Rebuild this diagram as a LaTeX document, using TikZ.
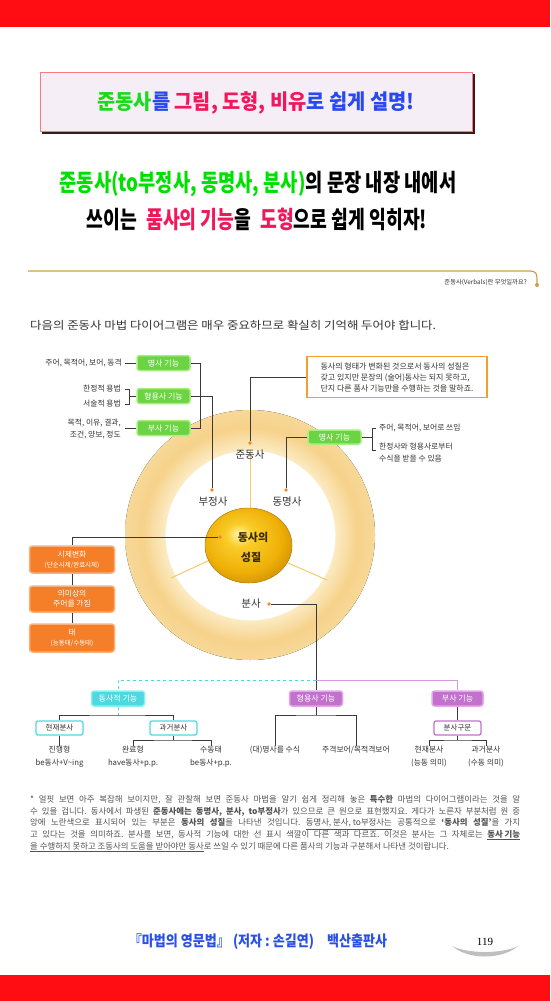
\documentclass[tikz,border=0pt]{standalone}
\usepackage{fontspec}
\setmainfont{Noto Sans CJK KR}
\newfontfamily\serifnum{Liberation Serif}
\frenchspacing
\definecolor{topred}{HTML}{FF0D12}
\definecolor{tgreen}{HTML}{18DC18}
\definecolor{sgreen}{HTML}{00E000}
\definecolor{tblue}{HTML}{2848F0}
\definecolor{tred}{HTML}{F0185A}
\definecolor{gold}{HTML}{C9A048}
\definecolor{gfill}{HTML}{6CD443}
\definecolor{gline}{HTML}{A8EE80}
\definecolor{ofill}{HTML}{F47F28}
\definecolor{oline}{HTML}{F9B07A}
\definecolor{obox}{HTML}{F0A030}
\definecolor{cfill}{HTML}{4FD8DF}
\definecolor{cline}{HTML}{8CF0F2}
\definecolor{vfill}{HTML}{C271CC}
\definecolor{vline}{HTML}{E2A8EA}
\definecolor{dkline}{HTML}{3A3A3A}
\definecolor{dotc}{HTML}{F08A20}
\definecolor{ringA}{HTML}{FCEBC4}
\definecolor{ringB}{HTML}{F6D28A}
\definecolor{spoke}{HTML}{F2CC66}
\definecolor{txt}{HTML}{333333}
\definecolor{foot}{HTML}{2850E8}
\definecolor{tbfill}{HTML}{F6EEF6}
\definecolor{tbline}{HTML}{FF7A80}
\definecolor{tbshadow}{HTML}{3A1A1A}
\definecolor{ballhi}{HTML}{FFF3A8}
\definecolor{ballmid}{HTML}{F9CC28}
\definecolor{ballc}{HTML}{EFB008}
\definecolor{balldk}{HTML}{CC8800}
\definecolor{ballline}{HTML}{BE8C14}
\definecolor{balltxt}{HTML}{3C2800}
\pgfdeclareradialshading{ringshade}{\pgfpoint{0bp}{0bp}}{color(0bp)=(white); color(16.95bp)=(white); color(17bp)=(ringA); color(21.5bp)=(ringB); color(25bp)=(ringB!75!ringA); color(50bp)=(ringB!75!ringA)}
\pgfdeclareradialshading{sphereshade}{\pgfpoint{-6bp}{8bp}}{color(0bp)=(ballhi); color(8bp)=(ballmid); color(22bp)=(ballc); color(33bp)=(balldk); color(50bp)=(balldk)}
\tikzset{
  conn/.style={draw=dkline, line width=0.8pt},
  gbox/.style={rounded corners=2.5pt, fill=gfill, draw=gline, line width=1.5pt, text=white, font=\fontsize{8}{9}\selectfont, minimum width=53pt, minimum height=15pt, inner sep=0pt},
  obx/.style={rounded corners=3pt, fill=ofill, draw=oline, line width=1.5pt, text=white, font=\fontsize{7.8}{10}\selectfont, minimum width=85pt, inner sep=0pt, align=center},
  cbox/.style={rounded corners=2.5pt, fill=cfill, draw=cline, line width=1.5pt, text=white, font=\fontsize{8}{9}\selectfont, minimum width=53pt, minimum height=15pt, inner sep=0pt},
  cwbox/.style={rounded corners=2pt, fill=white, draw=cfill, line width=1.3pt, text=txt, font=\fontsize{7.5}{9}\selectfont, minimum width=47pt, minimum height=14pt, inner sep=0pt},
  vbox/.style={rounded corners=2.5pt, fill=vfill, draw=vline, line width=1.5pt, text=white, font=\fontsize{8}{9}\selectfont, minimum width=53pt, minimum height=15pt, inner sep=0pt},
  vwbox/.style={rounded corners=2pt, fill=white, draw=vfill, line width=1.3pt, text=txt, font=\fontsize{7.5}{9}\selectfont, minimum width=47pt, minimum height=14pt, inner sep=0pt},
  lbl/.style={text=txt, font=\fontsize{7.8}{9}\selectfont, inner sep=0pt},
  blbl/.style={text=txt, font=\fontsize{10.5}{12}\selectfont, inner sep=0pt},
  fn/.style={text=txt!85, font=\fontsize{8.4}{9}\selectfont, inner sep=0pt, anchor=west},
  pdot/.style={circle, fill=dotc, inner sep=0pt, minimum size=3.6pt}
}
\begin{document}
\begin{tikzpicture}[x=1pt,y=-1pt]
\useasboundingbox (0,0) rectangle (550,1001);
% red bars
\fill[topred] (0,0) rectangle (550,27);
\fill[topred] (0,975) rectangle (550,1001);
% title box
\fill[tbshadow] (42,74) rectangle (475,134);
\draw[tbline, fill=tbfill, line width=0.8pt] (40,72) rectangle (472,131);
\node[inner sep=0pt] (title) at (256,103) {\scalebox{0.94}[1]{\fontsize{21}{21}\selectfont\bfseries\textcolor{tgreen}{준동사}\textcolor{tblue}{를} \textcolor{tred}{그림, 도형, 비유}\textcolor{tblue}{로 쉽게 설명!}}};
% subtitle
\node[inner sep=0pt] (sub1) at (258,184) {\scalebox{0.78}[1]{\fontsize{24}{24}\selectfont\bfseries\textcolor{sgreen}{준동사(to부정사, 동명사, 분사)}의 문장 내장 내에서}};
\node[inner sep=0pt] (sub2) at (257,219) {\scalebox{0.76}[1]{\fontsize{24}{24}\selectfont\bfseries 쓰이는\hspace{0.5em}\textcolor{tred}{품사의 기능}을\hspace{0.5em}\textcolor{tred}{도형}으로 쉽게 익히자!}};
% gold header line
\coordinate (gl0) at (28,271);
\coordinate (gl1) at (530,271);
\coordinate (gl2) at (537,285);
\draw[gold, line width=1.2pt] (gl0) -- (gl1) .. controls (536,271) and (537,274) .. (537,279) -- (gl2);
\fill[gold] (gl2) circle (2pt);
\node[text=txt, font=\fontsize{6.3}{7}\selectfont, anchor=east, inner sep=0pt] (hdr) at (527,283) {준동사(Verbals)란 무엇일까요?};
\node[text=txt, font=\fontsize{11}{12}\selectfont, anchor=west, inner sep=0pt] (intro) at (30,325) {\scalebox{1.13}[1]{다음의 준동사 마법 다이어그램은 매우 중요하므로 확실히 기억해 두어야 합니다.}};
% ring
\fill[shading=ringshade] (250,535) circle (125pt);
\draw[spoke, line width=1pt] (250,450) -- (250,508);
\draw[spoke, line width=1pt] (171,578) -- (210,560);
\draw[spoke, line width=1pt] (288,563) -- (327,580);
% sphere
\fill[shading=sphereshade] (248.5,545.5) ellipse (43.5pt and 37.5pt);
\draw[ballline, line width=0.5pt] (248.5,545.5) ellipse (43.5pt and 37.5pt);
\node[font=\fontsize{11}{12}\selectfont\bfseries, text=balltxt, inner sep=0pt] (sph1) at (253,537) {동사의};
\node[font=\fontsize{11}{12}\selectfont\bfseries, text=balltxt, inner sep=0pt] (sph2) at (251,557) {성질};
% ring labels and dots
\node[blbl] (ljun) at (250,455) {준동사};
\node[blbl] (lbu) at (213,502) {부정사};
\node[blbl] (ldong) at (287,502) {동명사};
\node[blbl] (lbun) at (251,604) {분사};
\node[pdot] (djun) at (250,443) {};
\node[pdot] (dbu) at (212,490) {};
\node[pdot] (ddong) at (286,490) {};
\node[pdot] (dsung) at (220,537) {};
\node[pdot] (dbun) at (269,604) {};
% left functions
\node[gbox] (gn1) at (163.5,363) {명사 기능};
\node[gbox] (gn2) at (163.5,396) {형용사 기능};
\node[gbox] (gn3) at (163.5,428) {부사 기능};
\node[lbl, anchor=east] (la1) at (122,363) {주어, 목적어, 보어, 동격};
\node[lbl, anchor=east] (la2) at (121,389) {한정적 용법};
\node[lbl, anchor=east] (la3) at (121,404) {서술적 용법};
\node[lbl, anchor=east] (la4) at (121,423) {목적, 이유, 결과,};
\node[lbl, anchor=east] (la5) at (121,435) {조건, 양보, 정도};
\draw[conn] (la1.east) ++(3,0) -- (gn1.west);
\draw[conn] (125,389) -- (129,389) -- (129,404) -- (125,404);
\draw[conn] (129,396) -- (gn2.west);
\draw[conn] (125,428) -- (gn3.west);
\draw[conn] (gn1.east) -- ++(10,0) |- (gn3.east);
\draw[conn] (gn2.east) -| (dbu);
% info box
\node[draw=obox, line width=1.3pt, fill=white, text=txt, font=\fontsize{8}{11}\selectfont, align=left, minimum width=180pt, minimum height=41pt, inner sep=0pt] (info) at (397,377) {동사의 형태가 변화된 것으로서 동사의 성질은\\갖고 있지만 문장의 (술어)동사는 되지 못하고,\\단지 다른 품사 기능만을 수행하는 것을 말하죠.};
\draw[conn] (info.west) -| (djun);
% right noun function
\node[gbox, minimum height=14pt] (gn4) at (334.5,437) {명사 기능};
\draw[conn] (gn4.west) -| (ddong);
\draw[conn] (gn4.east) -- (372,437);
\draw[conn] (376,428) -- (372,428) -- (372,450) -- (376,450);
\node[lbl, anchor=west] (ra1) at (379,428) {주어, 목적어, 보어로 쓰임};
\node[lbl, anchor=west] (ra2) at (379,447) {한정사와 형용사로부터};
\node[lbl, anchor=west] (ra3) at (379,459) {수식을 받을 수 있음};
% orange chain
\node[obx, minimum height=27pt] (ob1) at (72,559.5) {시제변화\\{\fontsize{6.5}{8}\selectfont(단순시제/완료시제)}};
\node[obx, minimum height=26pt] (ob2) at (72,599) {의미상의\\주어를 가짐};
\node[obx, minimum height=28pt] (ob3) at (72,638) {태\\{\fontsize{6.5}{8}\selectfont(능동태/수동태)}};
\draw[conn] (dsung) -| (ob1.north);
\draw[conn] (ob1.south) -- (ob2.north);
\draw[conn] (ob2.south) -- (ob3.north);
% bottom tree
\node[cbox] (cb) at (118,698.5) {동사적 기능};
\node[vbox] (vb1) at (316,698.5) {형용사 기능};
\node[vbox, minimum width=51pt] (vb2) at (457.5,698.5) {부사 기능};
\coordinate (j0) at (316,680);
\draw[conn] (dbun) -| (vb1.north);
\draw[cfill, line width=0.9pt, dashed] (j0) -| (cb.north);
\draw[vline!70!vfill, line width=0.9pt] (j0) -| (vb2.north);
% verbal branch
\node[cwbox] (cw1) at (59.5,728) {현재분사};
\node[cwbox] (cw2) at (173.5,728) {과거분사};
\coordinate (t1) at (118,715);
\draw[cfill, line width=0.9pt, dashed] (cb.south) -- (t1);
\draw[conn] (cw1.north) |- (t1) -| (cw2.north);
\node[lbl, anchor=north] (jin) at (59.5,746) {진행형};
\node[lbl, anchor=north] (jin2) at (59.5,759) {be동사+V\textasciitilde ing};
\node[lbl, anchor=north] (wan) at (133,746) {완료형};
\node[lbl, anchor=north] (wan2) at (133,759) {have동사+p.p.};
\node[lbl, anchor=north] (su) at (211,746) {수동태};
\node[lbl, anchor=north] (su2) at (211,759) {be동사+p.p.};
\draw[conn] (cw1.south) -- (jin.north);
\coordinate (t2) at (173.5,740);
\draw[conn] (cw2.south) -- (t2);
\draw[conn] (wan.north) |- (t2) -| (su.north);
% adjective branch
\coordinate (t3) at (316,715);
\node[lbl, anchor=north] (dae) at (275,746) {(대)명사를 수식};
\node[lbl, anchor=north] (ju) at (356,746) {주격보어/목적격보어};
\draw[conn] (vb1.south) -- (t3);
\draw[conn] (dae.north) |- (t3) -| (ju.north);
% adverb branch
\node[vwbox] (vw) at (457.5,728) {분사구문};
\draw[conn] (vb2.south) -- (vw.north);
\coordinate (t4) at (457.5,740);
\draw[conn] (vw.south) -- (t4);
\node[lbl, anchor=north] (hy) at (429,746) {현재분사};
\node[lbl, anchor=north] (hy2) at (429,759) {(능동 의미)};
\node[lbl, anchor=north] (gw) at (486,746) {과거분사};
\node[lbl, anchor=north] (gw2) at (486,759) {(수동 의미)};
\draw[conn] (hy.north) |- (t4) -| (gw.north);
% footnote
\node[fn] (f1) at (30,800) {\makebox[490pt][s]{* 얼핏 보면 아주 복잡해 보이지만, 잘 관찰해 보면 준동사 마법을 알기 쉽게 정리해 놓은 \textbf{특수한} 마법의 다이어그램이라는 것을 알}};
\node[fn] (f2) at (30,812) {\makebox[490pt][s]{수 있을 겁니다. 동사에서 파생된 \textbf{준동사에는 동명사, 분사, to부정사}가 있으므로 큰 원으로 표현했지요. 게다가 노른자 부분처럼 원 중}};
\node[fn] (f3) at (30,824) {\makebox[490pt][s]{앙에 노란색으로 표시되어 있는 부분은 \textbf{동사의 성질}을 나타낸 것입니다. \underline{동명사, 분사, to부정사는} 공통적으로 \textbf{‘동사의 성질’}을 가지}};
\node[fn] (f4) at (30,835) {\makebox[490pt][s]{고 있다는 것을 의미하죠. 분사를 보면, 동사적 기능에 대한 선 표시 색깔이 다른 색과 다르죠. 이것은 분사는 그 자체로는 \underline{\textbf{동사 기능}}}};
\node[fn, anchor=west] (f5) at (30,847) {\underline{을 수행하지 못하고 조동사의 도움을 받아야만 동사}로 쓰일 수 있기 때문에 다른 품사의 기능과 구분해서 나타낸 것이랍니다.};
% footer
\node[inner sep=0pt] (footer) at (258,942) {\scalebox{0.87}[1]{\fontsize{15}{15}\selectfont\bfseries\textcolor{foot}{『마법의 영문법』 (저자 : 손길연)\hspace{1em}백산출판사}}};
\fill[black!25] (452,946) .. controls (468,960) and (502,960) .. (518,946) .. controls (502,954) and (468,954) .. (452,946);
\node[inner sep=0pt, font=\serifnum\fontsize{11}{12}\selectfont] (pnum) at (485,942) {119};
\end{tikzpicture}
\end{document}
